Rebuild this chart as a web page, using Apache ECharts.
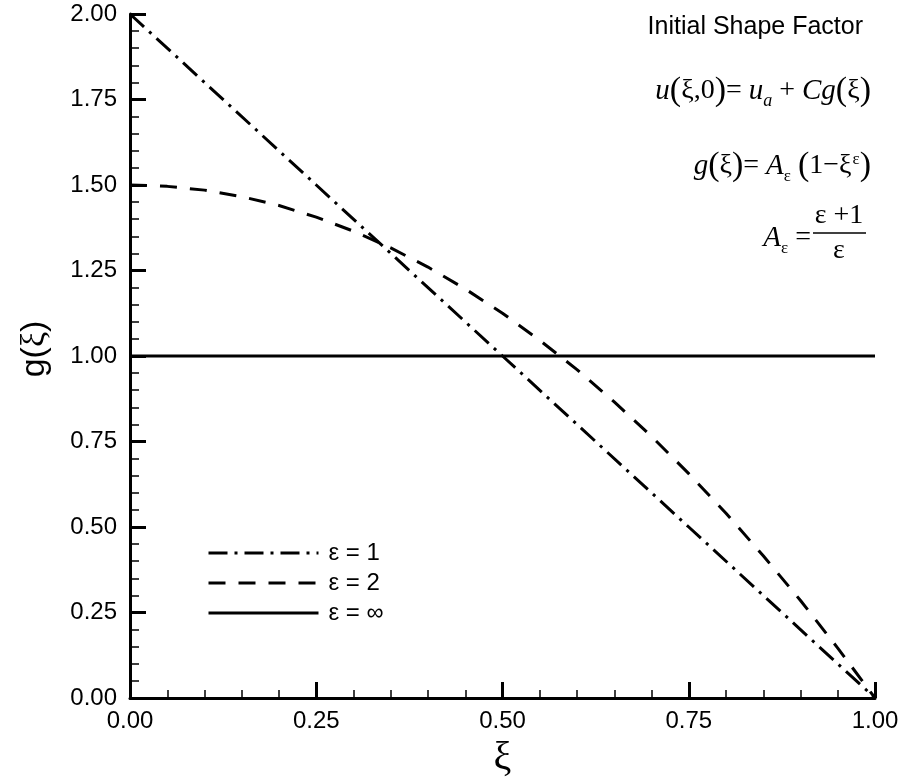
<!DOCTYPE html>
<html>
<head>
<meta charset="utf-8">
<script src="https://cdn.jsdelivr.net/npm/echarts@6/dist/echarts.min.js"></script>
<style>
html,body{margin:0;padding:0;background:#fff;}
#chart{width:902px;height:784px;}
</style>
</head>
<body>
<div id="chart"></div>
<script>
// Data
const xiEps1 = [0, 0.25, 0.5, 0.75, 1.0];
const gEps1 = [2.0, 1.5, 1.0, 0.5, 0.0];
const xiEps2 = [0, 0.05, 0.1, 0.15, 0.2, 0.25, 0.3, 0.35, 0.4, 0.45, 0.5, 0.55, 0.6, 0.65, 0.7, 0.75, 0.8, 0.85, 0.9, 0.95, 1.0];
const gEps2 = [1.5, 1.496, 1.485, 1.466, 1.44, 1.406, 1.365, 1.316, 1.26, 1.196, 1.125, 1.046, 0.96, 0.866, 0.765, 0.656, 0.54, 0.416, 0.285, 0.146, 0.0];
const xiEpsInf = [0, 1.0];
const gEpsInf = [1.0, 1.0];
const seriesNames = ['ε = 1', 'ε = 2', 'ε = ∞'];
const xTicks = ['0.00', '0.25', '0.50', '0.75', '1.00'];
const yTicks = ['0.00', '0.25', '0.50', '0.75', '1.00', '1.25', '1.50', '1.75', '2.00'];

function pairs(xs, ys) { return xs.map((x, i) => [x, ys[i]]); }

const SANS = 'Liberation Sans, Arial, sans-serif';
const SERIF = 'Liberation Serif, Times New Roman, serif';

const chart = echarts.init(document.getElementById('chart'), null, {renderer: 'canvas'});

const fRich = {
  i: {fontFamily: SERIF, fontStyle: 'italic', fontSize: 29, color: '#000', lineHeight: 38, verticalAlign: 'middle'},
  n: {fontFamily: SERIF, fontSize: 28, color: '#000', lineHeight: 38, verticalAlign: 'middle'},
  g: {fontFamily: SERIF, fontSize: 28, color: '#000', lineHeight: 38, verticalAlign: 'middle'},
  p: {fontFamily: SERIF, fontSize: 34, color: '#000', lineHeight: 38, verticalAlign: 'middle'},
  sub: {fontFamily: SERIF, fontStyle: 'italic', fontSize: 18, color: '#000', lineHeight: 17, verticalAlign: 'bottom'},
  subg: {fontFamily: SERIF, fontSize: 17, color: '#000', lineHeight: 16, verticalAlign: 'bottom'},
  sup: {fontFamily: SERIF, fontSize: 17, color: '#000', lineHeight: 17, verticalAlign: 'top', padding: [4, 0, 0, 1]}
};

const option = {
  backgroundColor: '#fff',
  animation: false,
  grid: {left: 130, right: 27, top: 14, bottom: 86, containLabel: false},
  xAxis: {
    type: 'value', min: 0, max: 1, interval: 0.25,
    name: 'ξ', nameLocation: 'middle', nameGap: 40,
    nameTextStyle: {fontFamily: SERIF, fontSize: 40, color: '#000'},
    axisLine: {show: true, onZero: false, lineStyle: {color: '#000', width: 3}},
    axisTick: {show: true, inside: true, length: 16, lineStyle: {color: '#000', width: 3}},
    minorTick: {show: true, splitNumber: 5, length: 8, lineStyle: {color: '#000', width: 1.5}},
    splitLine: {show: false},
    axisLabel: {fontFamily: SANS, fontSize: 24, color: '#000', margin: 11,
      formatter: v => xTicks[Math.round(v / 0.25)]}
  },
  yAxis: {
    type: 'value', min: 0, max: 2, interval: 0.25,
    name: '{a|g(}{s|ξ}{a|)}', nameLocation: 'middle', nameGap: 78, nameRotate: 90,
    nameTextStyle: {
      color: '#000',
      padding: [0, 0, 0, 14],
      rich: {
        a: {fontFamily: SANS, fontSize: 34, color: '#000'},
        s: {fontFamily: SERIF, fontSize: 34, color: '#000'}
      }
    },
    axisLine: {show: true, onZero: false, lineStyle: {color: '#000', width: 3}},
    axisTick: {show: true, inside: true, length: 16, lineStyle: {color: '#000', width: 3}},
    minorTick: {show: true, splitNumber: 5, length: 9, lineStyle: {color: '#000', width: 1.5}},
    splitLine: {show: false},
    axisLabel: {fontFamily: SANS, fontSize: 24, color: '#000', margin: 13,
      formatter: v => yTicks[Math.round(v / 0.25)]}
  },
  legend: {
    orient: 'vertical', left: 207, top: 540, padding: 0,
    itemWidth: 110, itemHeight: 14, itemGap: 4,
    data: seriesNames,
    itemStyle: {opacity: 0},
    lineStyle: {width: 3, type: 'inherit'},
    textStyle: {fontFamily: SANS, fontSize: 24, color: '#000', lineHeight: 26, padding: [0, 0, 0, 5]}
  },
  series: [
    {
      name: seriesNames[0], type: 'line', data: pairs(xiEps1, gEps1),
      symbol: 'none', showSymbol: false, smooth: false, silent: true,
      lineStyle: {color: '#000', width: 3, type: [19, 7, 3, 7]},
      itemStyle: {color: '#000'}
    },
    {
      name: seriesNames[1], type: 'line', data: pairs(xiEps2, gEps2),
      symbol: 'none', showSymbol: false, smooth: false, silent: true,
      lineStyle: {color: '#000', width: 3, type: [17, 13]},
      itemStyle: {color: '#000'}
    },
    {
      name: seriesNames[2], type: 'line', data: pairs(xiEpsInf, gEpsInf),
      symbol: 'none', showSymbol: false, smooth: false, silent: true,
      lineStyle: {color: '#000', width: 3, type: 'solid'},
      itemStyle: {color: '#000'}
    }
  ],
  graphic: [
    {type: 'text', x: 863, y: 27, style: {text: 'Initial Shape Factor', font: '25px ' + SANS, fill: '#000', align: 'right', verticalAlign: 'middle'}},
    {type: 'text', x: 871, y: 91, style: {
      text: '{i|u}{p|(}{g|ξ}{n|,0}{p|)}{n|= }{i|u}{sub|a}{n| + }{i|Cg}{p|(}{g|ξ}{p|)}',
      rich: fRich, align: 'right', verticalAlign: 'middle'}},
    {type: 'text', x: 871, y: 166, style: {
      text: '{i|g}{p|(}{g|ξ}{p|)}{n|= }{i|A}{subg|ε}{n| }{p|(}{n|1−}{g|ξ}{sup|ε}{p|)}',
      rich: fRich, align: 'right', verticalAlign: 'middle'}},
    {type: 'text', x: 811, y: 238, style: {
      text: '{i|A}{subg|ε}{n| =}',
      rich: fRich, align: 'right', verticalAlign: 'middle'}},
    {type: 'line', shape: {x1: 813, y1: 233, x2: 866, y2: 233}, style: {stroke: '#000', lineWidth: 1.5}},
    {type: 'text', x: 839, y: 216, style: {text: 'ε +1', font: '28px ' + SERIF, fill: '#000', align: 'center', verticalAlign: 'middle'}},
    {type: 'text', x: 839, y: 251, style: {text: 'ε', font: '28px ' + SERIF, fill: '#000', align: 'center', verticalAlign: 'middle'}}
  ]
};
chart.setOption(option);
</script>
</body>
</html>
